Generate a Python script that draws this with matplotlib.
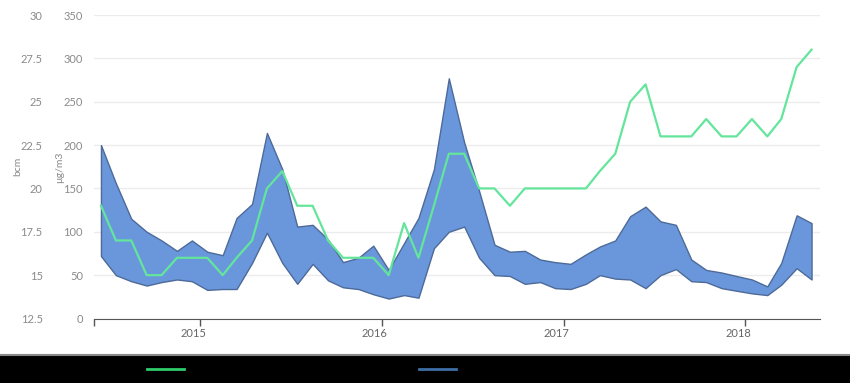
import pandas as pd
import numpy as np
import matplotlib
matplotlib.use('Agg')
import matplotlib.pyplot as plt
import matplotlib.dates as mdates
import matplotlib.transforms as mtransforms
from matplotlib.patches import Rectangle
from matplotlib.lines import Line2D

plt.rcParams['font.family'] = ['Lato', 'DejaVu Sans']

# monthly, Jun 2014 - May 2018
months = pd.date_range('2014-06-01', '2018-05-01', freq='MS') + pd.Timedelta(days=14)

# gas (bcm), right-hand series drawn against the outer left axis
gas_bcm = [19, 17, 17, 15, 15, 16, 16,
           16, 15, 16, 17, 20, 21, 19, 19, 17, 16, 16, 16,
           15, 18, 16, 19, 22, 22, 20, 20, 19, 20, 20, 20,
           20, 20, 21, 22, 25, 26, 23, 23, 23, 24, 23, 23,
           24, 23, 24, 27, 28]

# pollution range (ug/m3)
pm_high = [200, 156, 115, 100, 90, 78, 90,
           77, 73, 116, 132, 214, 172, 106, 108, 91, 65, 70, 84,
           56, 87, 116, 172, 277, 203, 147, 85, 77, 78, 68, 65,
           63, 74, 83, 90, 118, 129, 112, 108, 68, 56, 53, 49,
           45, 37, 64, 119, 110]
pm_low = [72, 50, 43, 38, 42, 45, 43,
          33, 34, 34, 64, 99, 64, 40, 63, 44, 36, 34, 28,
          23, 27, 24, 81, 100, 106, 70, 50, 49, 40, 42, 35,
          34, 40, 50, 46, 45, 35, 50, 57, 43, 42, 35, 32,
          29, 27, 39, 58, 45]

ug_ticks = list(range(0, 351, 50))
bcm_ticks = [12.5, 15, 17.5, 20, 22.5, 25, 27.5, 30]
bcm_labels = ['12.5', '15', '17.5', '20', '22.5', '25', '27.5', '30']

W, H = 850, 383
fig = plt.figure(figsize=(8.5, 3.83), dpi=100)
ax = fig.add_axes([94/W, (H-318.5)/H, (820-94)/W, (318.5-15)/H])

ax.fill_between(months, pm_low, pm_high, facecolor='#6a97dc',
                edgecolor='#4d6a98', linewidth=1, zorder=2)
ax.set_ylim(0, 350)
ax.set_yticks(ug_ticks)
ax.grid(axis='y', color='#ececec', lw=1, zorder=0)
ax.set_axisbelow(True)
ax.tick_params(axis='y', length=0, pad=8, labelsize=8, labelcolor='#8a8a8a')

xmin, xmax = pd.Timestamp('2014-06-01'), pd.Timestamp('2018-06-01')
ax.set_xlim(xmin, xmax)
ax.xaxis.set_major_locator(mdates.YearLocator())
ax.xaxis.set_major_formatter(mdates.DateFormatter('%Y'))
ax.set_xticks([mdates.date2num(xmin)], minor=True)
ax.tick_params(axis='x', which='both', length=5, color='#555555', width=1,
               labelsize=8, labelcolor='#666666', pad=2)
shift = mtransforms.ScaledTranslation(-7/100, 0, fig.dpi_scale_trans)
for lab in ax.get_xticklabels():
    lab.set_transform(lab.get_transform() + shift)
for s in ['top', 'right', 'left']:
    ax.spines[s].set_visible(False)
ax.spines['bottom'].set_color('#555555')

ax2 = ax.twinx()
ax2.plot(months, gas_bcm, color='#63e59b', lw=1.6, zorder=3)
ax2.set_ylim(12.5, 30)
ax2.set_yticks(bcm_ticks)
ax2.set_yticklabels(bcm_labels)
ax2.yaxis.tick_left()
ax2.tick_params(axis='y', length=0, pad=37, labelsize=8, labelcolor='#8a8a8a')
for s in ax2.spines.values():
    s.set_visible(False)

fig.text(18/W, 1-166/H, 'bcm', rotation=90, ha='center', va='center',
         fontsize=7.5, color='#8a8a8a')
fig.text(60/W, 1-167/H, 'µg/m3', rotation=90, ha='center', va='center',
         fontsize=7.5, color='#8a8a8a')

# black strip with the legend keys
fig.patches.append(Rectangle((0, 0), 1, 27/H, transform=fig.transFigure,
                             facecolor='black', edgecolor='none'))
fig.lines.append(Line2D([0, 1], [28/H, 28/H], transform=fig.transFigure,
                        color='#888888', lw=1.5))
fig.lines.append(Line2D([147/W, 184/W], [1-368.7/H]*2, transform=fig.transFigure,
                        color='#2fcc6a', lw=2))
fig.lines.append(Line2D([419/W, 456/W], [1-368.7/H]*2, transform=fig.transFigure,
                        color='#3d6fa6', lw=2))

fig.savefig('out.png', dpi=100)
